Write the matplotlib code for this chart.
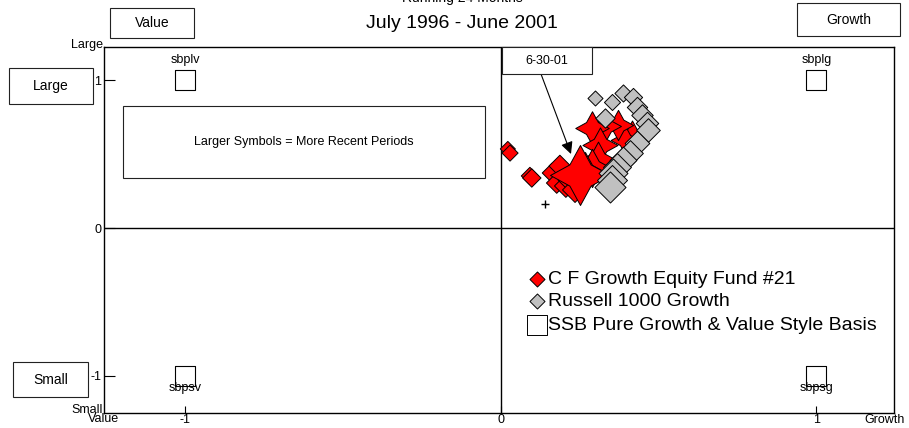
import numpy as np
import matplotlib
matplotlib.use('Agg')
import matplotlib.pyplot as plt
from matplotlib.patches import Rectangle

plt.rcParams['font.family'] = ['Liberation Sans', 'DejaVu Sans']

W, H = 909, 428

# SSB style basis corners
basis_names = ['sbplv', 'sbplg', 'sbpsv', 'sbpsg']
basis_x = [-1, 1, -1, 1]
basis_y = [1, 1, -1, -1]

# C F Growth Equity Fund #21, rolling 24 months, oldest first
fund_x = [0.022, 0.029, 0.092, 0.098, 0.162, 0.177, 0.187, 0.206, 0.219, 0.235,
          0.415, 0.393, 0.371, 0.330, 0.288, 0.314, 0.307, 0.288, 0.266, 0.250]
fund_y = [0.536, 0.508, 0.353, 0.339, 0.373, 0.305, 0.420, 0.285, 0.325, 0.258,
          0.637, 0.597, 0.698, 0.692, 0.678, 0.563, 0.461, 0.407, 0.380, 0.359]

# Russell 1000 Growth, oldest first
index_x = [0.298, 0.352, 0.387, 0.418, 0.330, 0.431, 0.447, 0.463,
           0.466, 0.431, 0.409, 0.387, 0.368, 0.355, 0.352, 0.345]
index_y = [0.881, 0.854, 0.915, 0.888, 0.746, 0.820, 0.766, 0.712,
           0.664, 0.576, 0.508, 0.461, 0.414, 0.373, 0.325, 0.278]

# marker for the start of the rolling window
start_x, start_y = [0.139], [0.163]


def px(x, y):
    return x / W, 1 - y / H


def box(x0, y0, x1, y1, text, size):
    fig.add_artist(Rectangle(px(x0, y1), (x1 - x0) / W, (y1 - y0) / H,
                             transform=fig.transFigure, facecolor='white',
                             edgecolor='#222222', lw=0.8))
    fig.text(*px((x0 + x1) / 2, (y0 + y1) / 2), text, ha='center', va='center',
             fontsize=size)


fig = plt.figure(figsize=(W / 100, H / 100), dpi=100)
ax = fig.add_axes([104 / W, 1 - 413 / H, (894 - 104) / W, (413 - 47) / H])
ax.set_xlim(-1.258, 1.246)
ax.set_ylim(-1.254, 1.227)
ax.axhline(0, color='black', lw=1, zorder=1)
ax.axvline(0, color='black', lw=1, zorder=1)
for s in ax.spines.values():
    s.set_linewidth(1)

ax.set_xticks([-1, 0, 1])
ax.set_xticklabels(['-1', '0', '1'])
ax.set_yticks([-1, 0, 1])
ax.set_yticklabels(['-1', '0', '1'])
ax.tick_params(axis='x', direction='in', length=5, labelsize=9, pad=1)
ax.tick_params(axis='y', direction='in', length=8, labelsize=9, pad=2)

# style basis squares
ax.scatter(basis_x, basis_y, marker='s', s=200, facecolor='white',
           edgecolor='black', lw=0.8, zorder=3)
for name, bx, by in zip(basis_names, basis_x, basis_y):
    off = 15 if by > 0 else -9
    ax.annotate(name, (bx, by), xytext=(0, off), textcoords='offset points',
                ha='center', va='center', fontsize=9)

# fund: diamonds then stars, growing with time
n = len(fund_x)
n_d = 10
dw = np.linspace(15, 25, n_d)
ax.scatter(fund_x[:n_d], fund_y[:n_d], marker='D', s=(dw / 1.96) ** 2,
           facecolor='red', edgecolor='black', lw=0.7, zorder=4)
sw = np.append(np.linspace(27, 40, n - n_d - 1), 60)
for i in range(n_d, n):
    ax.scatter(fund_x[i], fund_y[i], marker=(4, 1, 0),
               s=(sw[i - n_d] / 1.389) ** 2, facecolor='red',
               edgecolor='black', lw=0.7, zorder=4)

# index diamonds
iw = np.linspace(15, 31, len(index_x))
for i in range(len(index_x)):
    ax.scatter(index_x[i], index_y[i], marker='D', s=(iw[i] / 1.96) ** 2,
               facecolor='#c0c0c0', edgecolor='black', lw=0.7, zorder=5)

ax.scatter(start_x, start_y, marker='+', s=40, color='black', lw=1, zorder=5)

# titles
fig.text(*px(462, 2), 'Running 24 Months', ha='center', va='baseline', fontsize=10)
fig.text(*px(462, 28), 'July 1996 - June 2001', ha='center', va='baseline', fontsize=14)

# corner labels
fig.text(*px(103, 45), 'Large', ha='right', va='center', fontsize=9)
fig.text(*px(103, 410), 'Small', ha='right', va='center', fontsize=9)
fig.text(*px(104, 419), 'Value', ha='center', va='center', fontsize=9)
fig.text(*px(864, 420), 'Growth', ha='left', va='center', fontsize=9)

# boxes
box(110, 8, 194, 38, 'Value', 10)
box(797, 3, 900, 36, 'Growth', 10)
box(9, 68, 93, 104, 'Large', 10)
box(13, 362, 88, 397, 'Small', 10)
box(123, 106, 485, 178, 'Larger Symbols = More Recent Periods', 9)
box(502, 47, 592, 74, '6-30-01', 9)

ax.annotate('', xy=px(571, 154), xycoords='figure fraction',
            xytext=px(541, 74), textcoords='figure fraction',
            arrowprops=dict(arrowstyle='-|>', color='black', lw=0.8,
                            mutation_scale=18, shrinkA=0, shrinkB=0))

# legend
lx = 537
ax.scatter(*px(lx, 279), marker='D', s=(15 / 1.96) ** 2, facecolor='red',
           edgecolor='black', lw=0.7, transform=fig.transFigure, clip_on=False)
ax.scatter(*px(lx, 301), marker='D', s=(15 / 1.96) ** 2, facecolor='#c0c0c0',
           edgecolor='black', lw=0.7, transform=fig.transFigure, clip_on=False)
ax.scatter(*px(lx, 325), marker='s', s=(20 / 1.389) ** 2, facecolor='white',
           edgecolor='black', lw=0.7, transform=fig.transFigure, clip_on=False)
for yy, label in zip([280, 302, 326], ['C F Growth Equity Fund #21',
                                       'Russell 1000 Growth',
                                       'SSB Pure Growth & Value Style Basis']):
    fig.text(*px(548, yy), label, ha='left', va='center', fontsize=14)

fig.savefig('out.png', dpi=100)
